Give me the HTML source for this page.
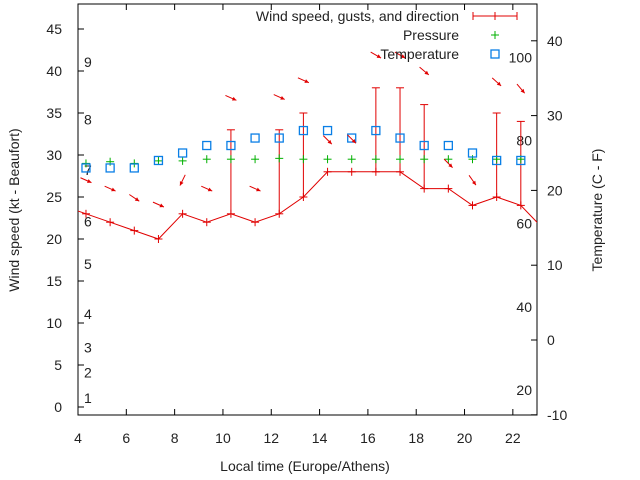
<!DOCTYPE html>
<html><head><meta charset="utf-8"><style>
html,body{margin:0;padding:0;background:#fff;}
svg{display:block;font-family:"Liberation Sans",sans-serif;}
</style></head><body>
<svg id="chart" width="640" height="480" viewBox="0 0 640 480" xmlns="http://www.w3.org/2000/svg">
<rect x="0" y="0" width="640" height="480" fill="#fff"/>
<g id="g"></g>
</svg>
<script>
// data
const hours = [3.33,4.33,5.33,6.33,7.33,8.33,9.33,10.33,11.33,12.33,13.33,14.33,15.33,16.33,17.33,18.33,19.33,20.33,21.33,22.33,23.33];
const windKt = [24,23,22,21,20,23,22,23,22,23,25,28,28,28,28,26,26,24,25,24,21];
const gustKt = [null,null,null,null,null,null,null,33,null,33,35,null,null,38,38,36,null,null,35,34,null];
const pressure = [null,29.0,29.2,29.0,29.3,29.3,29.5,29.5,29.5,29.6,29.5,29.5,29.5,29.5,29.5,29.5,29.5,29.5,29.5,29.5,null];
const tempC = [null,23,23,23,24,25,26,26,27,27,28,28,27,28,27,26,26,25,24,24,null];
const arrowLevel = [null,27.0,26.0,24.9,24.1,27.0,26.0,36.8,26.0,36.9,38.9,31.8,31.9,41.9,41.9,40.0,29.0,27.0,38.7,37.9,null];
const arrowDeg = [null,24,24,34,24,116,24,24,24,24,24,45,45,30,30,40,45,55,42,50,null];
const xTicks = [4,6,8,10,12,14,16,18,20,22];
const yTicks = [0,5,10,15,20,25,30,35,40,45];
const y2Ticks = [-10,0,10,20,30,40];
const beaufortLabels = ["1","2","3","4","5","6","7","8","9"];
const beaufortKt = [1.1,4.1,7.1,11.1,17.0,22.1,28.2,34.2,41.1];
const fahrLabels = ["20","40","60","80","100"];
const fahrF = [20,40,60,80,100];

const L=78,R=537,T=4,B=415;
const X=h=>L+(h-4)*(R-L)/19;
const Y=v=>407-v*8.4;
const Y2=c=>340-c*7.48;
const FtoC=f=>(f-32)*5/9;
const NS="http://www.w3.org/2000/svg";
const g=document.getElementById('g');
function el(tag,attrs,parent){const e=document.createElementNS(NS,tag);for(const k in attrs)e.setAttribute(k,attrs[k]);(parent||g).appendChild(e);return e;}
function txt(s,x,y,anchor,size,parent){const t=el('text',{x:x,y:y,'text-anchor':anchor,'font-size':size||14,fill:'#222'},parent);t.textContent=s;return t;}

const defs=el('defs',{});const cp=el('clipPath',{id:'clip'},defs);el('rect',{x:L,y:T,width:R-L,height:B-T},cp);

let e=el('rect',{x:L,y:T,width:R-L,height:B-T,fill:'none',stroke:'#000','stroke-width':1});


xTicks.forEach(h=>{const x=X(h);
 el('line',{x1:x,y1:B,x2:x,y2:B-6,stroke:'#000'});el('line',{x1:x,y1:T,x2:x,y2:T+6,stroke:'#000'});
 const t=txt(String(h),x,443,'middle');});
yTicks.forEach(v=>{const y=Y(v);
 el('line',{x1:L,y1:y,x2:L+6,y2:y,stroke:'#000'});
 const t=txt(String(v),62,y+5,'end');});
y2Ticks.forEach(c=>{const y=Y2(c);
 el('line',{x1:R,y1:y,x2:R-6,y2:y,stroke:'#000'});
 const t=txt(String(c),547,y+5,'start');});
beaufortLabels.forEach((s,i)=>{const t=txt(s,84,Y(beaufortKt[i])+5,'start');});
fahrLabels.forEach((s,i)=>{const t=txt(s,532,Y2(FtoC(fahrF[i]))+5,'end');});

let t=txt('Wind speed (kt - Beaufort)',0,0,'middle');t.setAttribute('transform','translate(19,210) rotate(-90)');

t=txt('Temperature (C - F)',0,0,'middle');t.setAttribute('transform','translate(602,210) rotate(-90)');

t=txt('Local time (Europe/Athens)',305,471,'middle');


const pg=el('g',{'clip-path':'url(#clip)'});
const RED='#e00000';
let pts=hours.map((h,i)=>X(h)+','+Y(windKt[i])).join(' ');
e=el('polyline',{points:pts,fill:'none',stroke:RED,'stroke-width':1},pg);

function plus(x,y,c,name){const gg=el('g',{stroke:c,'stroke-width':1},pg);
 
 el('line',{x1:x-4,y1:y,x2:x+4,y2:y},gg);el('line',{x1:x,y1:y-4,x2:x,y2:y+4},gg);}
hours.forEach((h,i)=>{const x=X(h);
 plus(x,Y(windKt[i]),RED,'wind-point');
 if(gustKt[i]!=null){const gb=el('g',{stroke:RED},pg);
  
  el('line',{x1:x,y1:Y(windKt[i]),x2:x,y2:Y(gustKt[i])},gb);
  el('line',{x1:x-4,y1:Y(gustKt[i]),x2:x+4,y2:Y(gustKt[i])},gb);}
 if(pressure[i]!=null)plus(x,Y(pressure[i]),'#00b000','pressure-point');
 if(tempC[i]!=null){const s=el('rect',{x:x-4,y:Y2(tempC[i])-4,width:8,height:8,fill:'none',stroke:'#0a7fe6','stroke-width':1.3},pg);
  }
 if(arrowLevel[i]!=null){const a=arrowDeg[i]*Math.PI/180,cx=x,cy=Y(arrowLevel[i]);
  const dx=Math.cos(a)*6,dy=Math.sin(a)*6;
  const ag=el('g',{},pg);
  el('line',{x1:cx-dx,y1:cy-dy,x2:cx+dx,y2:cy+dy,stroke:RED,'stroke-width':1},ag);
  const hx=cx+dx,hy=cy+dy,ux=Math.cos(a),uy=Math.sin(a);
  el('polygon',{points:`${hx},${hy} ${hx-ux*4-uy*2},${hy-uy*4+ux*2} ${hx-ux*4+uy*2},${hy-uy*4-ux*2}`,fill:RED},ag);}
});

const lg=el('g',{});
[['Wind speed, gusts, and direction',16],['Pressure',35],['Temperature',54]].forEach(([s,y])=>{
 const tt=txt(s,459,y+5,'end',14,lg);});
el('line',{x1:473,y1:16,x2:517,y2:16,stroke:RED},lg);
el('line',{x1:473,y1:12,x2:473,y2:20,stroke:RED},lg);el('line',{x1:517,y1:12,x2:517,y2:20,stroke:RED},lg);
el('line',{x1:495,y1:12,x2:495,y2:20,stroke:RED},lg);
el('line',{x1:491,y1:35,x2:499,y2:35,stroke:'#00b000'},lg);el('line',{x1:495,y1:31,x2:495,y2:39,stroke:'#00b000'},lg);
el('rect',{x:491,y:50,width:8,height:8,fill:'none',stroke:'#0a7fe6','stroke-width':1.3},lg);
</script>
</body></html>
